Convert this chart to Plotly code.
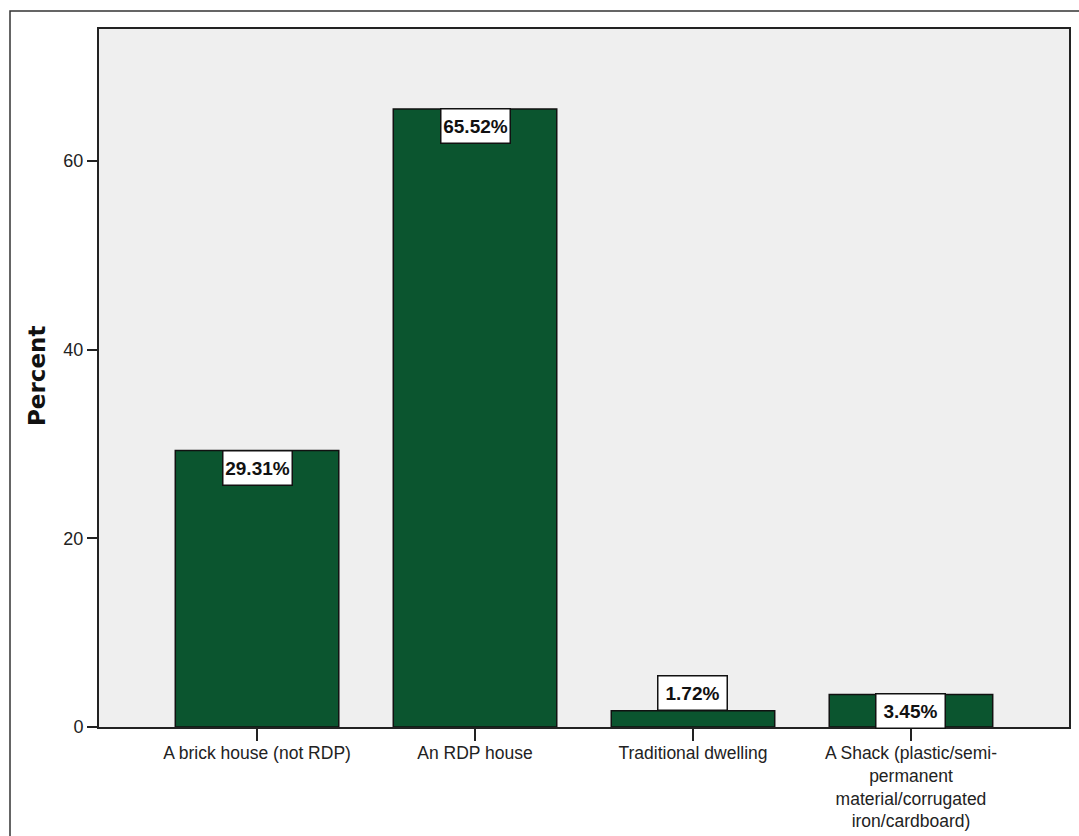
import plotly.graph_objects as go

categories = ["A brick house (not RDP)", "An RDP house", "Traditional dwelling",
              "A Shack (plastic/semi-<br>permanent<br>material/corrugated<br>iron/cardboard)"]
percent = [29.31, 65.52, 1.72, 3.45]
y_ticks = [0, 20, 40, 60]

W, H = 1079, 836
L, R, T, B = 99, 10, 29, 109
pw, ph = W - L - R, H - T - B

def px_x(px):
    return (px - L) / pw

def px_y(py):
    return (H - B - py) / ph

FONT = "Liberation Sans, Arial, sans-serif"

x_idx = list(range(len(categories)))

fig = go.Figure()
fig.add_trace(go.Bar(
    x=x_idx, y=percent, width=0.75,
    marker=dict(color="#0b552f", line=dict(color="#111111", width=1.5)),
    hoverinfo="skip",
))

annotations = []
for xi, v in zip(x_idx, percent):
    inside = v >= 3
    annotations.append(dict(
        x=xi, y=v, xref="x", yref="y",
        text="<b>%.2f%%</b>" % v, showarrow=False,
        yanchor="top" if inside else "bottom",
        yshift=1 if inside else 0,
        font=dict(family=FONT, size=19, color="#111111"),
        bgcolor="white", bordercolor="#111111", borderwidth=1.5,
        borderpad=1, width=66, height=31,
    ))

annotations.append(dict(
    x=px_x(37), y=px_y(376), xref="paper", yref="paper",
    text="<b>Percent</b>", showarrow=False, textangle=-90,
    font=dict(family="DejaVu Sans, sans-serif", size=23, color="#111111"),
    xanchor="center", yanchor="middle",
))

fig.update_layout(
    width=W, height=H,
    margin=dict(l=L, r=R, t=T, b=B, pad=0, autoexpand=False),
    paper_bgcolor="white",
    plot_bgcolor="#efefef",
    showlegend=False,
    font=dict(family=FONT, size=17, color="#222222"),
    annotations=annotations,
    shapes=[dict(
        type="rect", xref="paper", yref="paper",
        x0=px_x(10), x1=px_x(1100), y0=px_y(860), y1=px_y(11),
        line=dict(color="#333333", width=1.5), fillcolor="rgba(0,0,0,0)",
        layer="below",
    )],
)

fig.update_xaxes(
    range=[-0.725, 3.725], automargin=False,
    tickmode="array", tickvals=x_idx, ticktext=categories,
    ticks="outside", ticklen=12, tickwidth=2, tickcolor="#222222",
    showline=True, linecolor="#222222", linewidth=2, mirror=True,
    showgrid=False, zeroline=False,
    tickfont=dict(family=FONT, size=17.5, color="#222222"),
    ticklabelstandoff=-3,
    tickangle=0,
)
fig.update_yaxes(
    range=[0, 74], automargin=False,
    tickmode="array", tickvals=y_ticks, ticktext=[str(t) for t in y_ticks],
    ticks="outside", ticklen=10, tickwidth=2, tickcolor="#222222",
    showline=True, linecolor="#222222", linewidth=2, mirror=True,
    showgrid=False, zeroline=False,
    tickfont=dict(family=FONT, size=18, color="#222222"),
)

fig.write_html("out.html")
